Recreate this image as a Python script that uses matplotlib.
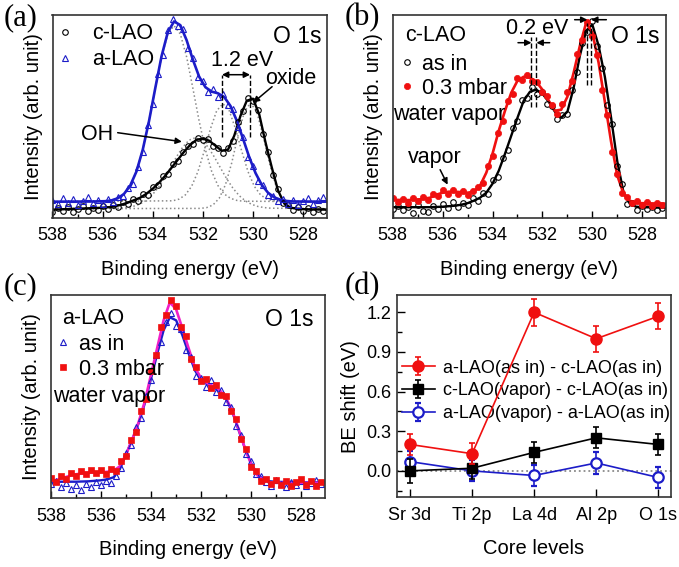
import matplotlib
matplotlib.use('Agg')
import matplotlib.pyplot as plt
from matplotlib.ticker import FormatStrFormatter

plt.rcParams['font.family'] = ['Liberation Sans', 'DejaVu Sans']

# ---------------- data ----------------
# intensities are in arbitrary units (height above the baseline of each panel)

# binding energy of the measured points (eV)
energy = [538.0, 537.8, 537.6, 537.4, 537.2, 537.0, 536.8, 536.6, 536.4, 536.2,
          536.0, 535.8, 535.6, 535.4, 535.2, 535.0, 534.8, 534.6, 534.4, 534.2,
          534.0, 533.8, 533.6, 533.4, 533.2, 533.0, 532.8, 532.6, 532.4, 532.2,
          532.0, 531.8, 531.6, 531.4, 531.2, 531.0, 530.8, 530.6, 530.4, 530.2,
          530.0, 529.8, 529.6, 529.4, 529.2, 529.0, 528.8, 528.6, 528.4, 528.2,
          528.0, 527.8, 527.6, 527.4, 527.2]

# (a) c-LAO vs a-LAO
a_clao_pts = [6, 10, 7, 11, 6, 9, 12, 7, 10, 8,
              12, 9, 13, 11, 16, 14, 19, 17, 24, 23,
              31, 33, 42, 44, 54, 57, 66, 72, 74, 80,
              78, 79, 72, 70, 65, 70, 77, 96, 107, 120,
              117, 108, 84, 66, 43, 29, 15, 13, 8, 11,
              7, 10, 6, 9, 7]
a_alao_pts = [18, 14, 20, 15, 19, 13, 17, 21, 15, 18,
              14, 19, 16, 21, 22, 30, 34, 51, 66, 93,
              114, 144, 163, 188, 199, 192, 189, 170, 160, 141,
              137, 126, 129, 121, 124, 113, 109, 91, 81, 61,
              52, 37, 33, 23, 22, 17, 19, 14, 18, 13,
              17, 20, 14, 18, 21]

a_clao_fit_e = [538.0, 537.0, 536.0, 535.75, 535.5, 535.25, 535.0, 534.75, 534.5, 534.25,
                534.0, 533.75, 533.5, 533.25, 533.0, 532.75, 532.5, 532.25, 532.0, 531.75,
                531.5, 531.25, 531.0, 530.75, 530.5, 530.25, 530.0, 529.75, 529.5, 529.25,
                529.0, 528.75, 528.5, 528.25, 528.0, 527.0]
a_clao_fit = [8, 9, 10, 10.5, 11.5, 13, 15, 17.5, 20, 24,
              29, 35, 42, 50, 58, 66, 73, 78, 79, 77,
              72, 67, 68, 82, 102, 117, 119, 103, 75, 50,
              27, 14, 10, 9, 8.5, 8]

a_alao_fit_e = [538.0, 536.4, 535.9, 535.65, 535.4, 535.15, 534.9, 534.65, 534.4, 534.15,
                533.9, 533.65, 533.4, 533.15, 532.9, 532.65, 532.4, 532.15, 531.9, 531.65,
                531.4, 531.15, 530.9, 530.65, 530.4, 530.15, 529.9, 529.65, 529.4, 529.15,
                528.9, 528.65, 528.4, 527.0]
a_alao_fit = [16, 16.2, 16.5, 17.3, 19.4, 23.7, 32.1, 46.3, 68, 96.6,
              129.6, 161.5, 185.5, 196.3, 192.5, 177.5, 158, 141, 130.5, 126.1,
              124.4, 120.7, 111.7, 97.1, 79, 60.4, 44.6, 32.7, 24.9, 20.3,
              17.9, 16.7, 16.2, 16]

# fitted components (dotted grey)
comp1_e = [538.0, 535.9, 535.65, 535.4, 535.15, 534.9, 534.65, 534.4, 534.15, 533.9,
           533.65, 533.4, 533.15, 532.9, 532.65, 532.4, 532.15, 531.9, 531.65, 531.4,
           531.15, 530.9, 530.65, 530.4, 527.0]
comp1 = [16, 16.5, 17.3, 19.4, 23.7, 32.1, 46.3, 68, 96.6, 129.4,
         160.8, 183.6, 192, 183.6, 160.8, 129.4, 96.6, 68, 46.3, 32.1,
         23.7, 19.4, 17.3, 16.5, 16]
comp2_e = [538.0, 533.2, 532.95, 532.7, 532.45, 532.2, 531.95, 531.7, 531.45, 531.2,
           530.95, 530.7, 530.45, 530.2, 529.95, 529.7, 529.45, 529.2, 527.0]
comp2 = [16, 16.9, 18.6, 22.8, 31.4, 46, 66.4, 88.9, 107, 114,
         107, 88.9, 66.4, 46, 31.4, 22.8, 18.6, 16.9, 16]
comp3_e = [538.0, 535.3, 535.05, 534.8, 534.55, 534.3, 534.05, 533.8, 533.55, 533.3,
           533.05, 532.8, 532.55, 532.3, 532.05, 531.8, 531.55, 531.3, 531.05, 530.8,
           530.55, 530.3, 530.05, 529.8, 529.55, 529.3, 527.0]
comp3 = [9, 9.5, 10.1, 11.2, 13.3, 16.7, 22, 29.4, 38.9, 49.8,
         61, 70.8, 77.6, 80, 77.6, 70.8, 61, 49.8, 38.9, 29.4,
         22, 16.7, 13.3, 11.2, 10.1, 9.5, 9]
comp4_e = [538.0, 532.1, 531.85, 531.6, 531.35, 531.1, 530.85, 530.6, 530.35, 530.1,
           529.85, 529.6, 529.35, 529.1, 528.85, 528.6, 528.35, 528.1, 527.0]
comp4 = [9, 9.3, 10.1, 12.7, 19.4, 33, 54.9, 82.1, 105.6, 115,
         105.6, 82.1, 54.9, 33, 19.4, 12.7, 10.1, 9.3, 9]

# (b) c-LAO as in vs 0.3 mbar water vapor
b_asin_pts = [9, 12, 8, 11, 5, 13, 7, 6, 12, 9,
              14, 10, 16, 11, 15, 13, 20, 17, 25, 24,
              38, 41, 60, 68, 90, 97, 118, 120, 131, 124,
              126, 114, 112, 99, 103, 104, 128, 146, 175, 186,
              197, 172, 150, 113, 94, 52, 34, 14, 15, 8,
              12, 9, 11, 8, 10]
b_vapor_pts = [20, 16, 19, 15, 20, 17, 21, 18, 24, 22,
               28, 24, 28, 24, 27, 23, 27, 31, 35, 52,
               62, 85, 97, 117, 124, 140, 138, 143, 137, 136,
               126, 122, 113, 104, 114, 126, 137, 164, 178, 196,
               182, 163, 128, 103, 66, 44, 25, 21, 15, 17,
               13, 16, 12, 15, 13]
b_asin_fit_e = [538.0, 536.5, 536.0, 535.5, 535.25, 535.0, 534.75, 534.5, 534.25, 534.0,
                533.75, 533.5, 533.25, 533.0, 532.75, 532.5, 532.25, 532.0, 531.75, 531.5,
                531.25, 531.0, 530.75, 530.5, 530.25, 530.0, 529.75, 529.5, 529.25, 529.0,
                528.75, 528.5, 528.25, 528.0, 527.0]
b_asin_fit = [10.5, 10.5, 11, 12, 13, 14.5, 17, 20, 25, 34,
              47, 64, 82, 100, 117, 126, 128, 124, 116, 106,
              100, 106, 130, 162, 187, 193, 172, 141, 100, 56,
              25, 14, 11, 10.5, 10]
b_vapor_fit_e = [538.0, 537.5, 537.0, 536.5, 536.25, 536.0, 535.75, 535.5, 535.25, 535.0,
                 534.75, 534.5, 534.25, 534.0, 533.75, 533.5, 533.25, 533.0, 532.75, 532.5,
                 532.25, 532.0, 531.75, 531.5, 531.25, 531.0, 530.75, 530.5, 530.25, 530.0,
                 529.75, 529.5, 529.25, 529.0, 528.75, 528.5, 528.25, 528.0, 527.0]
b_vapor_fit = [18, 17.5, 18, 20, 23, 25, 26, 26, 25.5, 25,
               26, 32, 45, 64, 87, 107, 125, 137, 141, 140,
               136, 128, 117, 107, 108, 121, 145, 172, 195, 185,
               155, 116, 76, 42, 24, 17, 15, 14.5, 14]

# (c) a-LAO as in vs 0.3 mbar water vapor
c_asin_pts = [14, 17, 11, 15, 9, 13, 8, 14, 11, 16,
              13, 17, 15, 22, 30, 45, 53, 71, 80, 102,
              118, 143, 156, 176, 185, 172, 169, 148, 141, 122,
              120, 111, 118, 106, 108, 96, 91, 72, 63, 44,
              37, 24, 22, 16, 12, 18, 14, 11, 16, 13,
              17, 12, 15, 18, 14]
c_vapor_pts = [20, 16, 22, 19, 25, 22, 27, 24, 28, 25,
               28, 24, 29, 27, 37, 42, 58, 66, 87, 99,
               127, 143, 171, 183, 198, 192, 171, 162, 139, 131,
               117, 119, 110, 113, 103, 102, 87, 79, 59, 49,
               31, 27, 17, 19, 14, 18, 13, 17, 12, 16,
               19, 13, 17, 12, 16]
c_asin_fit_e = [538.0, 537.0, 536.5, 536.0, 535.75, 535.5, 535.25, 535.0, 534.75, 534.5,
                534.25, 534.0, 533.75, 533.5, 533.25, 533.0, 532.75, 532.5, 532.25, 532.0,
                531.75, 531.5, 531.25, 531.0, 530.75, 530.5, 530.25, 530.0, 529.75, 529.5,
                529.25, 529.0, 528.0, 527.0]
c_asin_fit = [16.5, 16.6, 17, 18, 19, 21, 29, 44, 59, 75,
              95, 120, 145, 168, 181, 178, 163, 145, 128, 118,
              114, 111, 107, 99, 86, 68, 50, 35, 24, 19,
              17, 16.5, 16, 16]
c_vapor_fit_e = [538.0, 537.75, 537.5, 537.25, 537.0, 536.75, 536.5, 536.25, 536.0, 535.75,
                 535.5, 535.25, 535.0, 534.75, 534.5, 534.25, 534.0, 533.75, 533.5, 533.25,
                 533.0, 532.75, 532.5, 532.25, 532.0, 531.75, 531.5, 531.25, 531.0, 530.75,
                 530.5, 530.25, 530.0, 529.75, 529.5, 529.25, 529.0, 528.0, 527.0]
c_vapor_fit = [17, 18.5, 20.5, 22.5, 24, 25, 25.5, 26, 26, 26.5,
               27.5, 32, 44, 59, 76, 97, 124, 151, 178, 196,
               189, 170, 150, 131, 120, 115, 112, 108, 100, 87,
               69, 50, 34, 23, 18, 16, 15.5, 15.5, 15.5]

# (d) BE shifts
core_levels = ['Sr 3d', 'Ti 2p', 'La 4d', 'Al 2p', 'O 1s']
shift_a_c = [0.20, 0.13, 1.20, 1.00, 1.17]
err_a_c = [0.08, 0.08, 0.10, 0.10, 0.10]
shift_cvap = [0.00, 0.02, 0.14, 0.25, 0.20]
err_cvap = [0.09, 0.08, 0.08, 0.08, 0.08]
shift_avap = [0.07, 0.00, -0.035, 0.06, -0.05]
err_avap = [0.08, 0.08, 0.08, 0.08, 0.08]

# ---------------- figure ----------------
W, H = 679, 567
fig = plt.figure(figsize=(W / 100, H / 100), dpi=100)


def box(l, t, r, b):
    return [l / W, 1 - b / H, (r - l) / W, (b - t) / H]


ax_a = fig.add_axes(box(52.5, 15, 327, 217.7))
ax_b = fig.add_axes(box(392.7, 15, 666, 217.7))
ax_c = fig.add_axes(box(51, 295, 325, 498.3))
ax_d = fig.add_axes(box(396.7, 295, 671, 497.3))

BLUE = '#1c1cc8'
RED = '#f01010'
MAG = '#f020c8'
GREY = '#8a8a8a'
TXT = 15.5


def spectrum_axes(ax, top):
    ax.set_xlim(538, 527.05)
    ax.set_ylim(0, top)
    ax.set_xticks([538, 536, 534, 532, 530, 528])
    ax.set_xticks([537, 535, 533, 531, 529], minor=True)
    ax.set_yticks([])
    ax.tick_params(axis='x', which='both', direction='in', labelsize=13, pad=7, width=1)
    ax.tick_params(axis='x', which='major', length=5)
    ax.tick_params(axis='x', which='minor', length=3)
    ax.set_xlabel('Binding energy (eV)', fontsize=14.5, labelpad=11)
    ax.set_ylabel('Intensity (arb. unit)', fontsize=14.5, labelpad=7)
    for s in ax.spines.values():
        s.set_linewidth(1.2)
        s.set_color('#333333')


def arrow(ax, start, end, style='-|>'):
    ax.annotate('', xy=end, xytext=start,
                arrowprops=dict(arrowstyle=style, color='k', lw=1.1,
                                mutation_scale=9, shrinkA=0, shrinkB=0))


# (a)
spectrum_axes(ax_a, 202.7)
for ce, cv in [(comp1_e, comp1), (comp2_e, comp2), (comp3_e, comp3), (comp4_e, comp4)]:
    ax_a.plot(ce, cv, ls=':', color=GREY, lw=1.1)
ax_a.plot(a_clao_fit_e, a_clao_fit, color='k', lw=1.7)
ax_a.plot(a_alao_fit_e, a_alao_fit, color=BLUE, lw=1.9)
ha1, = ax_a.plot(energy, a_clao_pts, 'o', ls='none', ms=4, mfc='none', mec='k', mew=0.8)
ha2, = ax_a.plot(energy, a_alao_pts, '^', ls='none', ms=4.5, mfc='none', mec=BLUE, mew=0.8)
ax_a.legend([ha1, ha2], ['c-LAO', 'a-LAO'], loc='upper left', bbox_to_anchor=(0.006, 0.96),
            frameon=False, fontsize=TXT, handlelength=1.0, handletextpad=0.75,
            labelspacing=0.25, borderpad=0, borderaxespad=0, numpoints=1)
ax_a.text(528.22, 181, 'O 1s', fontsize=16.5, ha='center', va='center')
ax_a.text(530.44, 157, '1.2 eV', fontsize=TXT, ha='center', va='center')
arrow(ax_a, (531.24, 143), (530.12, 143), '<|-|>')
ax_a.vlines([531.24, 530.12], 81, 143, colors='k', linestyles='--', lw=1)
ax_a.text(528.48, 139, 'oxide', fontsize=TXT, ha='center', va='center')
arrow(ax_a, (529.24, 131), (530.0, 115))
ax_a.text(536.24, 83, 'OH', fontsize=TXT, ha='center', va='center')
arrow(ax_a, (535.4, 85), (532.84, 76))

# (b)
spectrum_axes(ax_b, 202.7)
ax_b.plot(b_asin_fit_e, b_asin_fit, color='k', lw=1.7)
ax_b.plot(b_vapor_fit_e, b_vapor_fit, color=RED, lw=1.9)
hb1, = ax_b.plot(energy, b_asin_pts, 'o', ls='none', ms=4, mfc='none', mec='k', mew=0.8)
hb2, = ax_b.plot(energy, b_vapor_pts, 'o', ls='none', ms=4.5, mfc=RED, mec=RED, mew=0.5)
ax_b.legend([hb1, hb2], ['as in', '0.3 mbar'], loc='upper left', bbox_to_anchor=(0.012, 0.81),
            frameon=False, fontsize=TXT, handlelength=1.0, handletextpad=0.2,
            labelspacing=0.15, borderpad=0, borderaxespad=0, numpoints=1)
ax_b.text(537.5, 182, 'c-LAO', fontsize=TXT, ha='left', va='center')
ax_b.text(537.98, 103, 'water vapor', fontsize=TXT, ha='left', va='center')
ax_b.text(528.3, 181, 'O 1s', fontsize=16.5, ha='center', va='center')
ax_b.text(532.2, 189, '0.2 eV', fontsize=TXT, ha='center', va='center')
ax_b.vlines([532.44, 532.24], 111, 181, colors='k', linestyles='--', lw=1)
arrow(ax_b, (532.98, 175), (532.44, 175))
arrow(ax_b, (531.71, 175), (532.24, 175))
ax_b.vlines([530.2, 530.05], 133, 195, colors='k', linestyles='--', lw=1)
arrow(ax_b, (530.71, 198), (530.2, 198))
arrow(ax_b, (529.44, 198), (530.05, 198))
ax_b.text(536.3, 60, 'vapor', fontsize=TXT, ha='center', va='center')
arrow(ax_b, (536.1, 48), (535.8, 33))

# (c)
spectrum_axes(ax_c, 203.3)
ax_c.plot(c_asin_fit_e, c_asin_fit, color=BLUE, lw=1.7)
ax_c.plot(c_vapor_fit_e, c_vapor_fit, color=MAG, lw=1.9)
hc1, = ax_c.plot(energy, c_asin_pts, '^', ls='none', ms=4.5, mfc='none', mec=BLUE, mew=0.8)
hc2, = ax_c.plot(energy, c_vapor_pts, 's', ls='none', ms=3.8, mfc=RED, mec=RED, mew=0.5)
ax_c.legend([hc1, hc2], ['as in', '0.3 mbar'], loc='upper left', bbox_to_anchor=(0.003, 0.81),
            frameon=False, fontsize=TXT, handlelength=1.0, handletextpad=0.25,
            labelspacing=0.2, borderpad=0, borderaxespad=0, numpoints=1)
ax_c.text(537.57, 180, 'a-LAO', fontsize=TXT, ha='left', va='center')
ax_c.text(537.9, 101.6, 'water vapor', fontsize=TXT, ha='left', va='center')
ax_c.text(528.48, 179, 'O 1s', fontsize=16.5, ha='center', va='center')

# (d)
xpos = list(range(len(core_levels)))
ax_d.axhline(0, color=GREY, ls=':', lw=1.3, zorder=1)
ax_d.errorbar(xpos, shift_avap, yerr=err_avap, fmt='-o', color=BLUE, lw=1.2, ms=7.5,
              mfc='white', mec=BLUE, mew=1.6, capsize=2.5, elinewidth=1.2, capthick=1.2,
              zorder=3, label='a-LAO(vapor) - a-LAO(as in)')
ax_d.errorbar(xpos, shift_cvap, yerr=err_cvap, fmt='-s', color='k', lw=1.2, ms=7,
              capsize=2.5, elinewidth=1.2, capthick=1.2, zorder=4,
              label='c-LAO(vapor) - c-LAO(as in)')
ax_d.errorbar(xpos, shift_a_c, yerr=err_a_c, fmt='-o', color=RED, lw=1.2, ms=8,
              mec=RED, capsize=2.5, elinewidth=1.2, capthick=1.2, zorder=5,
              label='a-LAO(as in) - c-LAO(as in)')
handles, labels = ax_d.get_legend_handles_labels()
ax_d.legend(handles[::-1], labels[::-1], loc='upper left', bbox_to_anchor=(0.018, 0.68),
            frameon=False, fontsize=13, handlelength=1.85, handletextpad=0.45,
            labelspacing=0.31, borderpad=0, borderaxespad=0)
ax_d.set_xlim(-0.215, 4.205)
ax_d.set_ylim(-0.2, 1.331)
ax_d.set_xticks(xpos)
ax_d.set_xticklabels(core_levels)
ax_d.set_yticks([0, 0.3, 0.6, 0.9, 1.2])
ax_d.set_yticks([-0.15, 0.15, 0.45, 0.75, 1.05], minor=True)
ax_d.yaxis.set_major_formatter(FormatStrFormatter('%.1f'))
ax_d.tick_params(which='both', direction='in', labelsize=13, width=1)
ax_d.tick_params(axis='x', which='major', length=6, pad=7)
ax_d.tick_params(axis='y', which='major', length=6, pad=4)
ax_d.tick_params(axis='y', which='minor', length=3.5)
ax_d.set_xlabel('Core levels', fontsize=14.5, labelpad=11)
ax_d.set_ylabel('BE shift (eV)', fontsize=14.5, labelpad=4)
for s in ax_d.spines.values():
    s.set_linewidth(1.2)
    s.set_color('#333333')

# panel letters
for lab, px, py in [('(a)', 4, 3), ('(b)', 345, 3), ('(c)', 4, 272), ('(d)', 345, 272)]:
    fig.text(px / W, 1 - py / H, lab, fontsize=22, family='Liberation Serif',
             ha='left', va='top')

fig.savefig('out.png', dpi=100)
